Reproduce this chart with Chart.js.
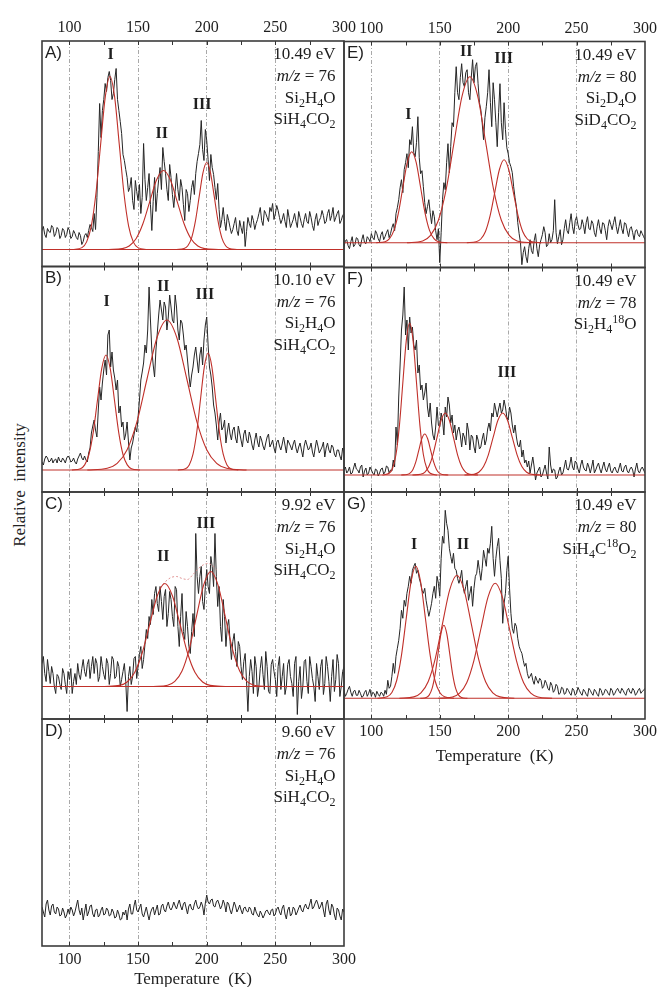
<!DOCTYPE html>
<html><head><meta charset="utf-8">
<script src="https://cdn.jsdelivr.net/npm/chart.js@4.4.1/dist/chart.umd.min.js"></script>
<style>
html,body{margin:0;padding:0;background:#fff;overflow:hidden;width:662px;height:987px;position:relative}
canvas{position:absolute;left:0;top:0}
#ylab{position:absolute;left:20px;top:485px;transform:translate(-50%,-50%) rotate(-90deg);font:17px "Liberation Serif","Times New Roman",serif;white-space:pre;color:#222}
</style></head><body>
<div id="ylab">Relative  intensity</div>
<script>
// ---------- DATA ----------
const temps = [80,82,84,86,88,90,92,94,96,98,
 100,102,104,106,108,110,112,114,116,118,
 120,122,124,126,128,130,132,134,136,138,
 140,142,144,146,148,150,152,154,156,158,
 160,162,164,166,168,170,172,174,176,178,
 180,182,184,186,188,190,192,194,196,198,
 200,202,204,206,208,210,212,214,216,218,
 220,222,224,226,228,230,232,234,236,238,
 240,242,244,246,248,250,252,254,256,258,
 260,262,264,266,268,270,272,274,276,278,
 280,282,284,286,288,290,292,294,296,298,300];
const tempsOdd = [81,83,85,87,89,91,93,95,97,99,
 101,103,105,107,109,111,113,115,117,119,
 121,123,125,127,129,131,133,135,137,139,
 141,143,145,147,149,151,153,155,157,159,
 161,163,165,167,169,171,173,175,177,179,
 181,183,185,187,189,191,193,195,197,199,
 201,203,205,207,209,211,213,215,217,219,
 221,223,225,227,229,231,233,235,237,239,
 241,243,245,247,249,251,253,255,257,259,
 261,263,265,267,269,271,273,275,277,279,
 281,283,285,287,289,291,293,295,297,299];
const tickMarks = [100,125,150,175,200,225,250,275,300];
const tickLabels = [100,150,200,250,300];
const gridTemps = [100,150,200,250];
const baseX = [80,300];

const traceA = [19,15,21,17,22,16,20,14,19,15,
 19,13,16,10,14,8,16,19,22,36,
 52,146,139,166,172,169,156,181,139,116,
 89,72,62,49,69,49,36,106,49,76,
 19,72,56,82,102,76,49,72,42,76,
 49,62,29,56,49,69,76,96,129,89,
 109,69,82,62,66,22,42,19,29,16,
 26,19,29,16,3,32,22,29,26,36,
 29,39,32,42,46,36,39,26,36,22,
 32,26,36,22,32,22,36,26,32,19,
 36,29,39,26,36,29,42,32,39,29,36];
const traceAodd = [23,12,18,24,13,22,11,21,12,22,
 11,19,12,17,5,14,12,25,18,20,
 98,112,150,158,178,150,170,150,128,95,
 80,58,72,40,58,65,52,70,62,45,
 48,38,70,60,88,60,85,55,58,60,
 70,45,60,38,62,55,88,105,100,120,
 90,95,75,50,40,30,28,35,22,20,
 32,14,22,28,18,26,34,20,30,42,
 24,36,28,38,30,44,32,30,28,40,
 22,30,28,38,26,30,28,38,24,30,
 24,32,34,28,40,34,28,36,26,34];
const traceB = [8,11,12,9,7,11,13,8,10,12,
 12,9,8,11,17,10,10,17,37,50,
 33,83,87,110,135,103,100,80,57,43,
 30,48,10,27,43,53,90,107,117,183,
 120,93,137,170,150,163,153,163,147,163,
 130,147,120,110,83,103,123,97,123,130,
 153,103,83,57,30,57,43,27,47,30,
 43,27,37,23,40,27,33,20,37,23,
 30,20,33,23,30,17,30,20,33,17,
 27,20,30,17,27,13,30,20,27,13,
 30,17,23,13,27,17,23,13,20,10,17];
const traceBodd = [5,14,8,12,10,7,9,12,7,14,
 8,12,6,14,12,14,8,22,44,40,
 60,70,100,95,140,118,92,90,64,48,
 36,28,22,35,38,70,98,125,140,150,
 105,120,155,160,168,140,175,150,175,140,
 150,135,125,95,95,115,110,115,105,145,
 125,95,65,45,48,40,50,38,36,40,
 32,44,30,36,30,38,25,30,28,34,
 24,27,36,26,22,28,24,26,25,30,
 24,26,22,23,20,24,25,22,18,22,
 24,20,28,22,20,25,16,20,14,22];
const traceC = [23,13,27,3,13,-7,10,-3,13,-7,
 7,-7,13,23,7,27,10,27,20,13,
 23,10,20,7,23,13,27,10,20,7,
 23,-25,20,10,30,20,40,27,57,70,
 87,93,83,100,67,97,73,87,60,97,
 40,93,47,60,33,73,153,93,120,77,
 117,93,120,153,80,60,87,40,67,27,
 53,20,40,7,33,-25,27,-7,20,0,
 30,-3,20,-7,27,7,20,-3,23,0,
 27,3,23,-28,20,0,27,-7,20,0,
 23,-3,27,3,20,-15,27,7,23,0,20];
const traceCodd = [30,5,15,20,0,12,2,18,2,15,
 18,5,2,12,18,15,22,8,30,28,
 5,30,12,28,2,30,8,25,0,15,
 5,10,2,28,8,32,18,42,48,62,
 72,100,75,85,90,60,95,70,100,60,
 70,55,75,40,55,50,110,110,85,100,
 100,130,100,110,100,45,70,60,45,45,
 35,45,20,25,5,10,15,30,-10,18,
 12,35,-5,22,15,-10,30,10,-8,22,
 10,-10,30,5,-12,25,5,30,8,-15,
 10,20,-8,30,5,10,-5,32,-10,15];
const traceD = [5,-5,12,-3,8,-2,3,-3,0,-3,
 -2,2,0,12,-3,-8,8,0,7,-5,
 3,-3,5,-2,2,-3,0,-5,-2,-7,
 -3,-8,8,-2,12,0,8,-5,5,-8,
 3,-3,7,-2,8,0,10,2,10,3,
 12,2,10,-2,8,2,12,3,10,-3,
 17,8,13,5,12,3,12,0,8,-2,
 10,0,7,-2,5,0,3,-3,0,-5,
 -2,-3,2,-3,3,-2,5,-3,7,-7,
 5,-2,3,0,7,0,8,3,13,5,
 12,3,10,-5,12,-3,5,-8,2,-8,0];
const traceDodd = [0,8,2,6,0,5,-4,4,-6,3,
 5,-4,6,2,4,0,-4,6,-2,2,
 -5,2,-3,4,-4,3,-6,2,-8,0,
 2,3,-2,6,2,4,-2,0,-2,-1,
 5,2,-3,6,2,6,4,5,6,8,
 6,8,4,6,3,8,6,5,6,9,
 10,12,6,10,8,6,8,10,2,4,
 6,3,2,4,1,5,-2,5,-3,1,
 -6,1,-1,2,-4,3,0,4,-2,2,
 -4,5,-3,4,2,5,4,8,3,9,
 8,6,2,8,2,8,-3,4,-4,3];
const traceE = [-4,3,-6,6,-2,4,-4,8,-1,4,
 9,3,9,1,11,6,13,9,19,29,
 43,63,73,89,103,116,86,126,69,56,
 29,43,19,26,3,-20,43,53,99,96,
 116,176,143,179,156,173,143,183,176,159,
 133,103,136,173,116,143,96,159,103,113,
 89,76,56,36,9,-22,-4,-20,3,-11,
 9,-14,3,16,-4,9,3,43,-1,13,
 3,23,9,29,9,26,13,23,9,26,
 13,19,6,23,9,19,3,23,13,26,
 9,23,9,19,6,16,3,13,6,9,3];
const traceEodd = [2,-3,1,-4,5,-2,3,0,6,1,
 5,12,4,8,3,10,5,15,12,35,
 55,50,80,75,98,90,100,85,72,40,
 36,30,32,12,14,10,60,80,70,120,
 150,150,165,160,170,150,165,160,180,140,
 120,125,150,140,160,120,130,120,140,95,
 80,70,45,20,0,-10,-14,-6,-8,2,
 -6,-2,8,10,-2,0,12,10,6,-2,
 14,12,20,16,22,18,14,18,20,14,
 22,10,16,14,20,12,16,18,20,16,
 16,14,20,12,14,10,12,8,12,6];
const traceF = [5,2,8,2,12,5,8,-2,7,2,
 5,0,5,2,7,3,8,5,15,48,
 78,145,188,155,158,148,125,102,85,75,
 92,58,52,35,68,48,55,68,78,52,
 42,35,48,28,38,52,25,38,22,35,
 28,42,35,52,62,72,58,72,65,68,
 55,62,42,38,28,18,12,8,2,18,
 -5,5,-2,5,2,28,2,5,-2,8,
 2,15,5,18,5,12,2,15,5,12,
 2,15,5,12,2,13,3,12,2,8,
 2,12,3,10,2,8,-2,12,2,8,2];
const traceFodd = [8,4,1,7,6,2,10,4,0,8,
 2,6,-1,6,1,9,2,4,8,30,
 110,160,140,125,142,130,135,110,90,82,
 68,72,40,48,50,62,40,58,70,60,
 50,44,40,42,30,44,40,28,40,26,
 36,30,46,44,58,65,66,62,75,58,
 68,50,50,30,35,25,15,14,10,8,
 2,8,0,10,-4,10,6,-4,4,0,
 8,6,10,8,14,6,10,8,4,8,
 8,2,9,6,8,6,8,4,6,4,
 7,4,8,4,6,5,6,4,6,5];
const traceG = [8,5,12,2,8,3,5,2,8,5,
 2,5,7,2,5,8,18,12,35,42,
 58,88,98,105,122,128,135,128,115,105,
 98,82,95,112,122,102,162,188,168,142,
 145,128,115,128,105,118,105,92,122,138,
 118,148,132,145,172,122,152,138,75,105,
 142,85,65,72,52,45,32,25,22,18,
 22,15,18,12,15,8,13,8,12,5,
 10,5,8,3,8,5,8,3,7,2,
 8,3,7,2,8,5,8,3,8,5,
 10,5,8,3,10,5,8,5,10,7,10];
const traceGodd = [2,9,6,7,3,8,1,6,2,9,
 6,1,4,6,2,4,10,22,25,50,
 70,80,92,112,115,132,125,120,108,110,
 90,88,105,100,115,140,155,175,150,135,
 130,120,120,112,112,98,112,110,125,128,
 130,140,150,155,140,140,160,120,95,128,
 110,70,75,60,48,38,35,20,25,14,
 18,20,10,18,10,16,6,14,4,11,
 4,10,5,10,3,11,5,9,4,10,
 5,9,4,10,3,9,5,10,3,8,
 7,10,5,8,6,10,3,8,5,8];

// fitted component curves [temperature, intensity]
const fitA1 = [[102.3,0],[109.1,1.9],[112.5,7.6],[115.9,23.4],[119.3,56.2],[122.7,105],[126.1,152.6],[129.5,173],[132.9,152.6],[136.3,105],[139.7,56.2],[143.1,23.4],[146.5,7.6],[149.9,1.9],[156.7,0]];
const fitA2 = [[128.5,0],[138.5,0.9],[143.5,3.5],[148.5,10.7],[153.5,25.7],[158.5,47.9],[163.5,69.7],[168.5,79],[173.5,69.7],[178.5,47.9],[183.5,25.7],[188.5,10.7],[193.5,3.5],[198.5,0.9],[208.5,0]];
const fitA3 = [[178,0],[183.5,1],[186.25,3.8],[189,11.7],[191.75,28.3],[194.5,52.8],[197.25,76.7],[200,87],[202.75,76.7],[205.5,52.8],[208.25,28.3],[211,11.7],[213.75,3.8],[216.5,1],[222,0]];
const fitB1 = [[101.8,0],[108,1.3],[111.1,5.1],[114.2,15.5],[117.3,37.4],[120.4,69.8],[123.5,101.4],[126.6,115],[129.7,101.4],[132.8,69.8],[135.9,37.4],[139,15.5],[142.1,5.1],[145.2,1.3],[151.4,0]];
const fitB2 = [[113,0],[127.5,1.7],[134.75,6.6],[142,20.3],[149.25,48.7],[156.5,91],[163.75,132.3],[171,150],[178.25,132.3],[185.5,91],[192.75,48.7],[200,20.3],[207.25,6.6],[214.5,1.7],[229,0]];
const fitB3 = [[179,0],[184.5,1.3],[187.25,5.1],[190,15.8],[192.75,38],[195.5,71],[198.25,103.2],[201,117],[203.75,103.2],[206.5,71],[209.25,38],[212,15.8],[214.75,5.1],[217.5,1.3],[223,0]];
const fitC2 = [[125.5,0],[136.5,1.1],[142,4.5],[147.5,13.9],[153,33.5],[158.5,62.5],[164,90.8],[169.5,103],[175,90.8],[180.5,62.5],[186,33.5],[191.5,13.9],[197,4.5],[202.5,1.1],[213.5,0]];
const fitC3 = [[161,0],[171.5,1.3],[176.75,5.1],[182,15.5],[187.25,37.4],[192.5,69.8],[197.75,101.4],[203,115],[208.25,101.4],[213.5,69.8],[218.75,37.4],[224,15.5],[229.25,5.1],[234.5,1.3],[245,0]];
const sumC = [[166,99],[170,105],[174,109],[178,110],[182,108],[186,107],[190,112],[194,118],[198,122],[201,123],[204,121],[207,117]];
const fitE1 = [[103.5,0],[110,1],[113.25,4],[116.5,12.3],[119.75,29.6],[123,55.2],[126.25,80.3],[129.5,91],[132.75,80.3],[136,55.2],[139.25,29.6],[142.5,12.3],[145.75,4],[149,1],[155.5,0]];
const fitE2 = [[126,0],[137.5,1.8],[143.25,7.3],[149,22.4],[154.75,53.9],[160.5,100.8],[166.25,146.4],[172,166],[177.75,146.4],[183.5,100.8],[189.25,53.9],[195,22.4],[200.75,7.3],[206.5,1.8],[218,0]];
const fitE3 = [[169.8,0],[176.6,0.9],[180,3.7],[183.4,11.2],[186.8,27],[190.2,50.4],[193.6,73.2],[197,83],[200.4,73.2],[203.8,50.4],[207.2,27],[210.6,11.2],[214,3.7],[217.4,0.9],[224.2,0]];
const fitF1 = [[108,0],[113,1.7],[115.5,6.7],[118,20.5],[120.5,49.4],[123,92.3],[125.5,134.1],[128,152],[130.5,134.1],[133,92.3],[135.5,49.4],[138,20.5],[140.5,6.7],[143,1.7],[148,0]];
const fitF2 = [[121.8,0],[126.1,0.5],[128.25,1.8],[130.4,5.5],[132.55,13.3],[134.7,24.9],[136.85,36.2],[139,41],[141.15,36.2],[143.3,24.9],[145.45,13.3],[147.6,5.5],[149.75,1.8],[151.9,0.5],[156.2,0]];
const fitF3 = [[130,0],[136,0.7],[139,2.7],[142,8.4],[145,20.2],[148,37.6],[151,54.7],[154,62],[157,54.7],[160,37.6],[163,20.2],[166,8.4],[169,2.7],[172,0.7],[178,0]];
const fitF4 = [[168,0],[175,0.7],[178.5,2.7],[182,8.4],[185.5,20.2],[189,37.6],[192.5,54.7],[196,62],[199.5,54.7],[203,37.6],[206.5,20.2],[210,8.4],[213.5,2.7],[217,0.7],[224,0]];
const fitG1 = [[104.5,0],[111.5,1.5],[115,5.8],[118.5,17.8],[122,42.9],[125.5,80.1],[129,116.4],[132.5,132],[136,116.4],[139.5,80.1],[143,42.9],[146.5,17.8],[150,5.8],[153.5,1.5],[160.5,0]];
const fitG2 = [[135.8,0],[140.1,0.8],[142.25,3.2],[144.4,9.9],[146.55,23.7],[148.7,44.3],[150.85,64.4],[153,73],[155.15,64.4],[157.3,44.3],[159.45,23.7],[161.6,9.9],[163.75,3.2],[165.9,0.8],[170.2,0]];
const fitG3 = [[120.5,0],[131,1.4],[136.25,5.4],[141.5,16.6],[146.75,40],[152,74.7],[157.25,108.5],[162.5,123],[167.75,108.5],[173,74.7],[178.25,40],[183.5,16.6],[188.75,5.4],[194,1.4],[204.5,0]];
const fitG4 = [[148.9,0],[159.3,1.3],[164.5,5.1],[169.7,15.5],[174.9,37.4],[180.1,69.8],[185.3,101.4],[190.5,115],[195.7,101.4],[200.9,69.8],[206.1,37.4],[211.3,15.5],[216.5,5.1],[221.7,1.3],[232.1,0]];

// text
const infoA = ['10.49 eV','*m/z* = 76','Si_2H_4O','SiH_4CO_2'];
const infoB = ['10.10 eV','*m/z* = 76','Si_2H_4O','SiH_4CO_2'];
const infoC = ['9.92 eV','*m/z* = 76','Si_2H_4O','SiH_4CO_2'];
const infoD = ['9.60 eV','*m/z* = 76','Si_2H_4O','SiH_4CO_2'];
const infoE = ['10.49 eV','*m/z* = 80','Si_2D_4O','SiD_4CO_2'];
const infoF = ['10.49 eV','*m/z* = 78','Si_2H_4^{18}O'];
const infoG = ['10.49 eV','*m/z* = 80','SiH_4C^{18}O_2'];
const peaksA = [['I',130,194.5],['II',167.2,116],['III',196.6,144.5]];
const peaksB = [['I',127.1,168],['II',168.4,183],['III',198.7,175]];
const peaksC = [['II',168.4,130],['III',199.4,163]];
const peaksE = [['I',127.1,128],['II',169.3,191],['III',196.6,184]];
const peaksF = [['III',199.1,102]];
const peaksG = [['I',131.2,153],['II',166.9,153]];
const axisTitle = 'Temperature  (K)';

// ---------- LAYOUT ----------
const SERIF = '"Liberation Serif","Times New Roman",serif';
const SANS = '"Liberation Sans",Arial,sans-serif';
const RED = '#c0302a';
const panels = [
 {key:'A', col:0, top:41, bottom:266.5, yMin:-17, yMax:208.5, axis:'top', trace:traceA, odd:traceAodd, fits:[fitA1,fitA2,fitA3], info:infoA, peaks:peaksA},
 {key:'B', col:0, top:266.5, bottom:492, yMin:-22, yMax:203.5, axis:'none', trace:traceB, odd:traceBodd, fits:[fitB1,fitB2,fitB3], info:infoB, peaks:peaksB},
 {key:'C', col:0, top:492, bottom:719, yMin:-32.5, yMax:194.5, axis:'none', trace:traceC, odd:traceCodd, fits:[fitC2,fitC3], sum:sumC, info:infoC, peaks:peaksC},
 {key:'D', col:0, top:719, bottom:946, yMin:-34, yMax:193, axis:'bottom', titleY:980, tickPad:4, trace:traceD, odd:traceDodd, fits:[], info:infoD, peaks:[]},
 {key:'E', col:1, top:41.5, bottom:267.5, yMin:-24.8, yMax:201.2, axis:'top', trace:traceE, odd:traceEodd, fits:[fitE1,fitE2,fitE3], info:infoE, peaks:peaksE},
 {key:'F', col:1, top:267.5, bottom:492, yMin:-17, yMax:207.5, axis:'none', trace:traceF, odd:traceFodd, fits:[fitF1,fitF2,fitF3,fitF4], info:infoF, peaks:peaksF},
 {key:'G', col:1, top:492, bottom:719, yMin:-20.7, yMax:206.3, axis:'bottom', titleY:756.6, tickPad:3.6, trace:traceG, odd:traceGodd, fits:[fitG1,fitG2,fitG3,fitG4], info:infoG, peaks:peaksG}
];
const CW = 662, CH = 1000;

function parseRich(s){
  const out=[]; let i=0, mode='n';
  while(i<s.length){
    const ch=s[i];
    if(ch==='*'){ mode = mode==='i'?'n':'i'; i++; continue; }
    if(ch==='_'||ch==='^'){
      let t;
      if(s[i+1]==='{'){ const j=s.indexOf('}',i); t=s.slice(i+2,j); i=j+1; }
      else { t=s[i+1]; i+=2; }
      out.push({t, mode: ch==='_'?'sub':'sup'}); continue;
    }
    out.push({t:ch, mode}); i++;
  }
  return out;
}
function drawRich(ctx, s, xr, yc, size){
  const segs=parseRich(s);
  const fontFor = m => m==='i' ? `italic ${size}px ${SERIF}` : (m==='sub'||m==='sup') ? `${Math.round(size*0.68)}px ${SERIF}` : `${size}px ${SERIF}`;
  let w=0;
  segs.forEach(g=>{ ctx.font=fontFor(g.mode); g.w=ctx.measureText(g.t).width; w+=g.w; });
  let x=xr-w;
  const base = yc + size*0.33;
  ctx.textAlign='left'; ctx.textBaseline='alphabetic';
  segs.forEach(g=>{
    ctx.font=fontFor(g.mode);
    const dy = g.mode==='sub' ? size*0.25 : g.mode==='sup' ? -size*0.38 : 0;
    ctx.fillText(g.t, x, base+dy); x+=g.w;
  });
}

function makeDeco(p){
  return {
    id:'deco'+p.key,
    afterDatasetsDraw(chart){
      const {ctx, chartArea:a, scales:{x, y}} = chart;
      ctx.save();
      ctx.strokeStyle='#333'; ctx.lineWidth=1;
      tickMarks.forEach(v=>{
        if(v>=300) return;
        const px=Math.round(x.getPixelForValue(v))+0.5;
        ctx.beginPath(); ctx.moveTo(px,a.top); ctx.lineTo(px,a.top+4);
        ctx.moveTo(px,a.bottom); ctx.lineTo(px,a.bottom-4); ctx.stroke();
      });
      ctx.strokeStyle='#3c3c3c'; ctx.lineWidth=1.6;
      ctx.strokeRect(a.left, a.top, a.right-a.left, a.bottom-a.top);
      ctx.fillStyle='#1e1e1e';
      ctx.font=`17px ${SANS}`; ctx.textAlign='left'; ctx.textBaseline='middle';
      ctx.fillText(p.key+')', a.left+3, a.top+12);
      const offs=[12.5,34.5,56,77.5];
      p.info.forEach((s,i)=>drawRich(ctx, s, a.right-8.5, a.top+offs[i], 17));
      ctx.font=`bold 16px ${SERIF}`; ctx.textAlign='center'; ctx.textBaseline='middle';
      p.peaks.forEach(([t,k,v])=>ctx.fillText(t, x.getPixelForValue(k), y.getPixelForValue(v)));
      ctx.restore();
    }
  };
}

function makePanel(p){
  const cv=document.createElement('canvas');
  cv.width=CW; cv.height=CH; cv.style.width=CW+'px'; cv.style.height=CH+'px';
  document.body.appendChild(cv);
  const colL = p.col===0 ? 42 : 344, colR = p.col===0 ? 344 : 645;
  const pts = temps.map((t,i)=>({x:t,y:p.trace[i]})).concat(tempsOdd.map((t,i)=>({x:t,y:p.odd[i]})));
  pts.sort((a,b)=>a.x-b.x);
  const datasets=[];
  p.fits.forEach(f=>datasets.push({data:f.map(([k,v])=>({x:k,y:v})), borderColor:RED, borderWidth:1.1, pointRadius:0, cubicInterpolationMode:'monotone', fill:false}));
  if(p.sum) datasets.push({data:p.sum.map(([k,v])=>({x:k,y:v})), borderColor:'rgba(220,130,130,0.85)', borderWidth:1, borderDash:[2,2], pointRadius:0, cubicInterpolationMode:'monotone', fill:false});
  if(p.fits.length) datasets.push({data:baseX.map(k=>({x:k,y:0})), borderColor:RED, borderWidth:1.1, pointRadius:0, fill:false});
  datasets.push({data:pts, borderColor:'#262626', borderWidth:1, pointRadius:0, tension:0, fill:false});

  let axisH=0, padTop=p.top, padBottom=CH-p.bottom;
  if(p.axis==='top'){ axisH=41; padTop=p.top-41; }
  if(p.axis==='bottom'){ axisH=p.titleY+10.2-p.bottom; padBottom=CH-(p.titleY+10.2); }

  new Chart(cv, {
    type:'line',
    data:{datasets},
    options:{
      responsive:false, animation:false, devicePixelRatio:1, events:[],
      layout:{padding:{left:colL, right:CW-colR, top:padTop, bottom:padBottom}},
      plugins:{legend:{display:false}, tooltip:{enabled:false}, title:{display:false}},
      scales:{
        x:{type:'linear', position:p.axis==='top'?'top':'bottom', min:80, max:300,
          afterBuildTicks:s=>{ s.ticks=tickMarks.map(v=>({value:v})); },
          afterFit:s=>{ s.height=axisH; },
          ticks:{display:p.axis!=='none', autoSkip:false, maxRotation:0, minRotation:0, padding:p.axis==='top'?3.4:(p.tickPad||4), color:'#1e1e1e', font:{family:SERIF, size:16},
            callback:v=>tickLabels.includes(v)?String(v):''},
          grid:{drawTicks:false, lineWidth:1, color:c=>(c.tick && gridTemps.includes(c.tick.value))?'#a9a9a9':'rgba(0,0,0,0)'},
          border:{display:false, dash:[4,2,1,2]},
          title:{display:p.axis==='bottom', text:axisTitle, color:'#1e1e1e', font:{family:SERIF, size:17}, padding:0}
        },
        y:{display:false, min:p.yMin, max:p.yMax}
      }
    },
    plugins:[makeDeco(p)]
  });
}
panels.forEach(makePanel);
</script>
</body></html>
